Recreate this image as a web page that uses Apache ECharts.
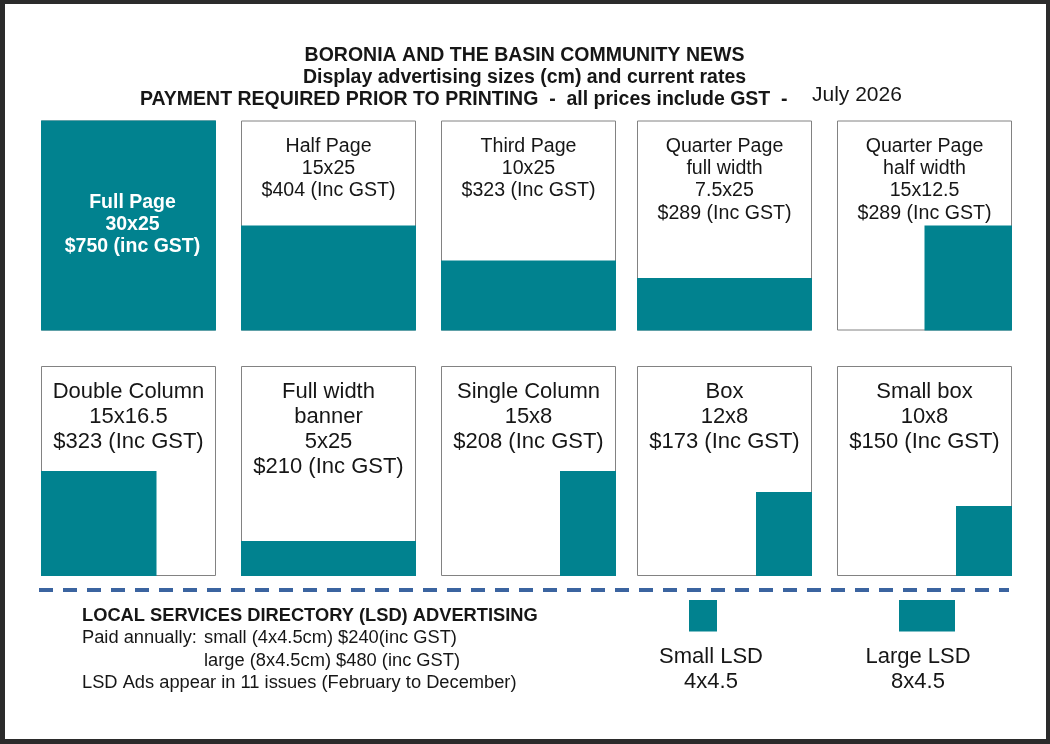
<!DOCTYPE html>
<html>
  <head>
    <meta charset="utf-8">
    <title>Display advertising sizes</title>
    <style>
      html, body { margin: 0; padding: 0; background: #2b2b2b; }
      #main { width: 1050px; height: 744px; }
    </style>
    <script src="https://cdn.jsdelivr.net/npm/echarts@6/dist/echarts.min.js"></script>
  </head>
  <body>
    <div id="main"></div>
    <script type="text/javascript">

      // page size of the paper in cm (height x width)
      var PAGE_H = 30
      var PAGE_W = 25

      // display ads
      var adTitles = ['Full Page', 'Half Page', 'Third Page', 'Quarter Page\nfull width', 'Quarter Page\nhalf width',
                      'Double Column', 'Full width\nbanner', 'Single Column', 'Box', 'Small box']
      var adHeight = [30, 15, 10, 7.5, 15, 15, 5, 15, 12, 10]
      var adWidth  = [25, 25, 25, 25, 12.5, 16.5, 25, 8, 8, 8]
      var adPrice  = [750, 404, 323, 289, 289, 323, 210, 208, 173, 150]
      var adAnchor = ['left', 'left', 'left', 'left', 'right', 'left', 'left', 'right', 'right', 'right']

      // local services directory ads (width x height)
      var lsdNames  = ['Small LSD', 'Large LSD']
      var lsdWidth  = [4, 8]
      var lsdHeight = [4.5, 4.5]
      var lsdPrice  = [240, 480]
      var lsdIssues = 11

      var TEAL = '#01828f'
      var INK = '#161616'
      var FONT = 'Liberation Sans'

      // layout of the boxes
      var boxLeft = [41, 241, 441, 637, 837]
      var boxTop = [120.5, 366]
      var boxW = 175
      var boxH = 210
      var pxW = boxW / PAGE_W
      var pxH = boxH / PAGE_H
      var lsdLeft = [689, 899]
      var lsdTop = 600

      var grids = [], xAxes = [], yAxes = [], series = [], titles = []

      function renderAd(params, api) {
        var x0 = api.value(0), x1 = api.value(1), h = api.value(2)
        var p0 = api.coord([x0, h]), p1 = api.coord([x1, 0])
        var children = []
        if (api.value(3) === 1) {
          var q0 = api.coord([0, PAGE_H]), q1 = api.coord([PAGE_W, 0])
          children.push({
            type: 'rect',
            shape: { x: q0[0] + 0.5, y: q0[1] + 0.5, width: q1[0] - q0[0] - 1, height: q1[1] - q0[1] - 1 },
            style: { fill: '#fff', stroke: '#828282', lineWidth: 1 }
          })
        }
        children.push({
          type: 'rect',
          shape: { x: p0[0], y: p0[1], width: p1[0] - p0[0], height: p1[1] - p0[1] },
          style: { fill: TEAL }
        })
        return { type: 'group', children: children }
      }

      // one grid per ad
      for (var i = 0; i < adTitles.length; i++) {
        var row = i < 5 ? 0 : 1
        grids.push({ left: boxLeft[i % 5], top: boxTop[row], width: boxW, height: boxH })
        xAxes.push({ type: 'value', gridIndex: i, min: 0, max: PAGE_W, show: false })
        yAxes.push({ type: 'value', gridIndex: i, min: 0, max: PAGE_H, show: false })
        var x0 = adAnchor[i] === 'right' ? PAGE_W - adWidth[i] : 0
        series.push({
          type: 'custom', xAxisIndex: i, yAxisIndex: i, silent: true,
          renderItem: renderAd,
          data: [[x0, x0 + adWidth[i], adHeight[i], 1]]
        })

        var size = adHeight[i] + 'x' + adWidth[i]
        var full = adHeight[i] === PAGE_H && adWidth[i] === PAGE_W
        var label = adTitles[i] + '\n' + size + '\n$' + adPrice[i] + (full ? ' (inc GST)' : ' (Inc GST)')
        if (full) {
          titles.push({
            text: label, left: boxLeft[0] + boxW / 2 + 4, top: 191.5, textAlign: 'center', padding: 0,
            textStyle: { color: '#fff', fontSize: 19.5, fontWeight: 'bold', fontFamily: FONT, lineHeight: 22.1 }
          })
        } else if (row === 0) {
          titles.push({
            text: label, left: boxLeft[i % 5] + boxW / 2, top: 135.3, textAlign: 'center', padding: 0,
            textStyle: { color: INK, fontSize: 19.6, fontWeight: 'normal', fontFamily: FONT, lineHeight: 22.3 }
          })
        } else {
          titles.push({
            text: label, left: boxLeft[i % 5] + boxW / 2, top: 379.5, textAlign: 'center', padding: 0,
            textStyle: { color: INK, fontSize: 22, fontWeight: 'normal', fontFamily: FONT, lineHeight: 25 }
          })
        }
      }

      // LSD boxes drawn at the same scale as the pages
      var lsdCenter = [711, 918]
      for (var j = 0; j < lsdNames.length; j++) {
        var k = adTitles.length + j
        grids.push({ left: lsdLeft[j], top: lsdTop, width: lsdWidth[j] * pxW, height: lsdHeight[j] * pxH })
        xAxes.push({ type: 'value', gridIndex: k, min: 0, max: lsdWidth[j], show: false })
        yAxes.push({ type: 'value', gridIndex: k, min: 0, max: lsdHeight[j], show: false })
        series.push({
          type: 'custom', xAxisIndex: k, yAxisIndex: k, silent: true,
          renderItem: renderAd,
          data: [[0, lsdWidth[j], lsdHeight[j], 0]]
        })
        titles.push({
          text: lsdNames[j] + '\n' + lsdWidth[j] + 'x' + lsdHeight[j],
          left: lsdCenter[j], top: 644.5, textAlign: 'center', padding: 0,
          textStyle: { color: INK, fontSize: 22, fontWeight: 'normal', fontFamily: FONT, lineHeight: 25 }
        })
      }

      // headings
      titles.push({
        text: 'BORONIA AND THE BASIN COMMUNITY NEWS\nDisplay advertising sizes (cm) and current rates',
        left: 524.5, top: 44, textAlign: 'center', padding: 0,
        textStyle: { color: INK, fontSize: 19.5, fontWeight: 'bold', fontFamily: FONT, lineHeight: 22.3 }
      })
      titles.push({
        text: 'PAYMENT REQUIRED PRIOR TO PRINTING  -  all prices include GST  -',
        left: 140, top: 88.5, textAlign: 'left', padding: 0,
        textStyle: { color: INK, fontSize: 19.5, fontWeight: 'bold', fontFamily: FONT, lineHeight: 22 }
      })
      titles.push({
        text: 'July 2026', left: 812, top: 84, textAlign: 'left', padding: 0,
        textStyle: { color: INK, fontSize: 21, fontWeight: 'normal', fontFamily: FONT, lineHeight: 23 }
      })

      // LSD notes
      var small = lsdNames[0].split(' ')[0].toLowerCase()
      var large = lsdNames[1].split(' ')[0].toLowerCase()
      titles.push({
        text: 'LOCAL SERVICES DIRECTORY (LSD) ADVERTISING', left: 82, top: 605, padding: 0,
        textStyle: { color: INK, fontSize: 18.3, fontWeight: 'bold', fontFamily: FONT, lineHeight: 22 }
      })
      titles.push({
        text: 'Paid annually:', left: 82, top: 627, padding: 0,
        textStyle: { color: INK, fontSize: 18.3, fontWeight: 'normal', fontFamily: FONT, lineHeight: 22 }
      })
      titles.push({
        text: small + ' (' + lsdWidth[0] + 'x' + lsdHeight[0] + 'cm) $' + lsdPrice[0] + '(inc GST)\n' +
              large + ' (' + lsdWidth[1] + 'x' + lsdHeight[1] + 'cm) $' + lsdPrice[1] + ' (inc GST)',
        left: 204, top: 627, padding: 0,
        textStyle: { color: INK, fontSize: 18.3, fontWeight: 'normal', fontFamily: FONT, lineHeight: 22.5 }
      })
      titles.push({
        text: 'LSD Ads appear in ' + lsdIssues + ' issues (February to December)', left: 82, top: 672, padding: 0,
        textStyle: { color: INK, fontSize: 18.3, fontWeight: 'normal', fontFamily: FONT, lineHeight: 22 }
      })

      var myChart = echarts.init(document.getElementById('main'))
      var option = {
        backgroundColor: '#2b2b2b',
        animation: false,
        title: titles,
        grid: grids,
        xAxis: xAxes,
        yAxis: yAxes,
        graphic: [
          { type: 'rect', shape: { x: 5, y: 4, width: 1041, height: 735 }, style: { fill: '#fff' }, silent: true },
          { type: 'line', shape: { x1: 39, y1: 590, x2: 1009, y2: 590 },
            style: { stroke: '#3b64a0', lineWidth: 4, lineDash: [14, 10] }, silent: true }
        ],
        series: series
      }
      myChart.setOption(option)
    </script>
  </body>
</html>
